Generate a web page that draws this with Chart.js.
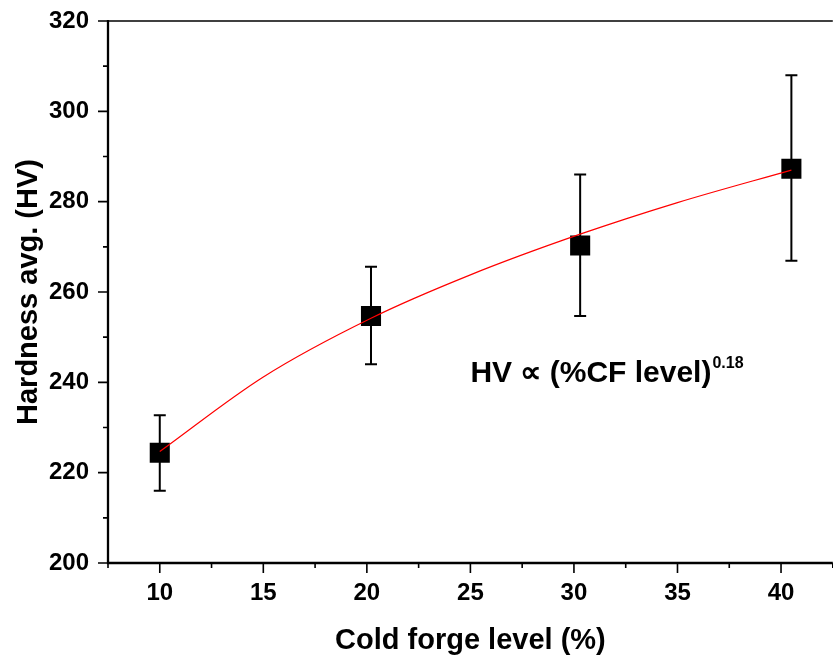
<!DOCTYPE html>
<html>
<head>
<meta charset="utf-8">
<script src="https://cdn.jsdelivr.net/npm/chart.js@4"></script>
<style>
  html, body { margin: 0; padding: 0; background: #fff; overflow: hidden; }
  #wrap { width: 833px; height: 658px; overflow: hidden; }
</style>
</head>
<body>
<div id="wrap"><canvas id="chart" width="847" height="658"></canvas></div>
<script>
// measured data (cold forge level vs hardness)
const cfLevel = [10, 20.2, 30.3, 40.5];
const hvAvg = [224.4, 254.7, 270.3, 287.3];
const hvHigh = [232.7, 265.6, 286.0, 308.0];
const hvLow = [216.0, 244.0, 254.7, 266.9];

// power-law fit curve
const fitX = [10, 15, 20.2, 25, 30.3, 35, 40.5];
const fitHV = [224.7, 241.2, 254.2, 263.8, 272.8, 279.8, 287.0];

const xTickLabels = [10, 15, 20, 25, 30, 35, 40];
const yTickLabels = [200, 220, 240, 260, 280, 300, 320];
const xMinorTicks = [7.5, 12.5, 17.5, 22.5, 27.5, 32.5, 37.5, 42.5];
const yMinorTicks = [210, 230, 250, 270, 290, 310];

const FONT = 'Liberation Sans, Arial, Helvetica, sans-serif';

function noPad(s) {
  s.paddingLeft = 0; s.paddingRight = 0; s.paddingTop = 0; s.paddingBottom = 0;
}

const axisDecor = {
  id: 'axisDecor',
  beforeDatasetsDraw(chart) {
    const ctx = chart.ctx;
    const xs = chart.scales.x, ys = chart.scales.y;
    const area = chart.chartArea;
    ctx.save();
    ctx.strokeStyle = '#000';
    // top frame line
    ctx.lineWidth = 1.5;
    ctx.beginPath();
    ctx.moveTo(area.left, area.top);
    ctx.lineTo(area.right, area.top);
    ctx.stroke();
    // axis lines
    ctx.lineWidth = 2.3;
    ctx.beginPath();
    ctx.moveTo(area.left, area.top - 1);
    ctx.lineTo(area.left, area.bottom);
    ctx.lineTo(area.right, area.bottom);
    ctx.stroke();
    // tick marks
    ctx.lineWidth = 1.6;
    ctx.beginPath();
    xTickLabels.forEach(v => { const p = xs.getPixelForValue(v); ctx.moveTo(p, area.bottom); ctx.lineTo(p, area.bottom + 10); });
    xMinorTicks.forEach(v => { const p = xs.getPixelForValue(v); ctx.moveTo(p, area.bottom); ctx.lineTo(p, area.bottom + 5); });
    yTickLabels.forEach(v => { const p = ys.getPixelForValue(v); ctx.moveTo(area.left, p); ctx.lineTo(area.left - 10, p); });
    yMinorTicks.forEach(v => { const p = ys.getPixelForValue(v); ctx.moveTo(area.left, p); ctx.lineTo(area.left - 5, p); });
    ctx.stroke();

    // error bars
    ctx.lineWidth = 2;
    ctx.beginPath();
    cfLevel.forEach((x, i) => {
      const px = xs.getPixelForValue(x);
      const top = ys.getPixelForValue(hvHigh[i]);
      const bot = ys.getPixelForValue(hvLow[i]);
      ctx.moveTo(px, top); ctx.lineTo(px, bot);
      ctx.moveTo(px - 6, top); ctx.lineTo(px + 6, top);
      ctx.moveTo(px - 6, bot); ctx.lineTo(px + 6, bot);
    });
    ctx.stroke();
    ctx.restore();
  },
  afterDraw(chart) {
    const ctx = chart.ctx;
    const xs = chart.scales.x, ys = chart.scales.y;
    const area = chart.chartArea;
    ctx.save();
    ctx.fillStyle = '#000';
    // axis titles
    ctx.font = 'bold 29px ' + FONT;
    ctx.textAlign = 'center';
    ctx.textBaseline = 'alphabetic';
    ctx.fillText('Cold forge level (%)', (area.left + area.right) / 2, 649);
    ctx.save();
    ctx.translate(37, (area.top + area.bottom) / 2);
    ctx.rotate(-Math.PI / 2);
    ctx.fillText('Hardness avg. (HV)', 0, 0);
    ctx.restore();

    // fit annotation
    const ax = xs.getPixelForValue(25.0);
    const ay = ys.getPixelForValue(240.1);
    ctx.textAlign = 'left';
    ctx.font = 'bold 30px ' + FONT;
    const main = 'HV \u221D (%CF level)';
    ctx.fillText(main, ax, ay);
    const w = ctx.measureText(main).width;
    ctx.font = 'bold 16px ' + FONT;
    ctx.fillText('0.18', ax + w + 1, ay - 14);
    ctx.restore();
  }
};

new Chart(document.getElementById('chart').getContext('2d'), {
  type: 'scatter',
  data: {
    datasets: [
      {
        label: 'fit',
        data: fitX.map((x, i) => ({ x: x, y: fitHV[i] })),
        showLine: true,
        borderColor: '#ff0000',
        borderWidth: 1.2,
        pointRadius: 0,
        cubicInterpolationMode: 'monotone',
        order: 0
      },
      {
        label: 'Hardness',
        data: cfLevel.map((x, i) => ({ x: x, y: hvAvg[i] })),
        pointStyle: 'rect',
        pointRadius: 14.2,
        backgroundColor: '#000',
        borderColor: '#000',
        borderWidth: 0,
        order: 1
      }
    ]
  },
  options: {
    responsive: false,
    animation: false,
    devicePixelRatio: 1,
    layout: { padding: { top: 21, right: 0, left: 0, bottom: 0 } },
    plugins: { legend: { display: false }, tooltip: { enabled: false } },
    scales: {
      x: {
        type: 'linear',
        min: 7.5,
        max: 42.5,
        afterBuildTicks: s => { s.ticks = xTickLabels.map(v => ({ value: v })); },
        afterFit: s => { s.height = 95; noPad(s); },
        grid: { display: false, drawTicks: false },
        border: { display: false },
        ticks: { padding: 16, color: '#000', font: { family: FONT, size: 24, weight: 'bold' }, maxRotation: 0 }
      },
      y: {
        type: 'linear',
        min: 200,
        max: 320,
        afterBuildTicks: s => { s.ticks = yTickLabels.map(v => ({ value: v })); },
        afterFit: s => { s.width = 108; noPad(s); },
        grid: { display: false, drawTicks: false },
        border: { display: false },
        ticks: { padding: 19, color: '#000', font: { family: FONT, size: 24, weight: 'bold' } }
      }
    }
  },
  plugins: [axisDecor]
});
</script>
</body>
</html>
